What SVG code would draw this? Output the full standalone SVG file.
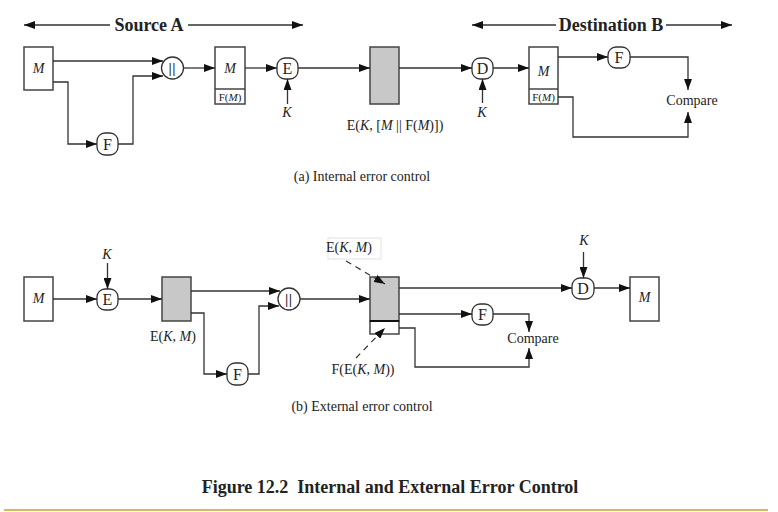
<svg xmlns="http://www.w3.org/2000/svg" width="778" height="512" viewBox="0 0 778 512">
<style>
text{font-family:"Liberation Serif","Times New Roman",serif;fill:#222;text-anchor:middle}
.box{fill:#fff;stroke:#444;stroke-width:1.5}
.gray{fill:#c8c8c8;stroke:#444;stroke-width:1.5}
.rn{fill:#fff;stroke:#333;stroke-width:1.3}
.ln{fill:none;stroke:#333;stroke-width:1.3}
.arr{marker-end:url(#ah)}
.lbl{font-size:14px}
.nl{font-size:16px}
.it{font-style:italic}
.m{font-size:14px;font-style:italic}
.sm{font-size:11px}
.hd{font-size:18px;font-weight:bold}
.bar{font-size:14px;fill:#111;stroke:#111;stroke-width:0.2}
.dash{fill:none;stroke:#333;stroke-width:1.2;stroke-dasharray:6 5}
</style>
<defs>
<marker id="ah" viewBox="0 0 11 8" refX="11" refY="4" markerWidth="11" markerHeight="8" orient="auto-start-reverse" markerUnits="userSpaceOnUse"><path d="M0,0 L11,4 L0,8 z" fill="#111"/></marker>
</defs>
<rect width="778" height="512" fill="#fff"/>

<g id="headers">
<line x1="24" y1="25" x2="303" y2="25" class="ln" marker-start="url(#ah)" marker-end="url(#ah)"/>
<rect x="110" y="15" width="78" height="20" fill="#fff"/>
<text x="149" y="31" class="hd">Source A</text>
<line x1="472" y1="25" x2="732" y2="25" class="ln" marker-start="url(#ah)" marker-end="url(#ah)"/>
<rect x="556" y="15" width="110" height="20" fill="#fff"/>
<text x="611" y="31" class="hd">Destination B</text>
</g>

<g id="a-M">
<rect class="box" x="24" y="47" width="29" height="43"/>
<text x="38.5" y="73" class="m">M</text>
</g>
<g id="a-concat">
<circle class="rn" cx="172.5" cy="68" r="11"/>
<text x="172.5" y="73" class="bar" letter-spacing="1">||</text>
</g>
<g id="a-F1">
<rect class="rn" x="97" y="133" width="21" height="22" rx="8"/>
<text x="107.5" y="149.5" class="nl">F</text>
</g>
<g id="a-MF1">
<rect class="box" x="215" y="47" width="30" height="57"/>
<line x1="215" y1="89" x2="245" y2="89" stroke="#444" stroke-width="1.5"/>
<text x="230" y="73" class="m">M</text>
<text x="230" y="101" class="sm">F(<tspan class="it">M</tspan>)</text>
</g>
<g id="a-E">
<rect class="rn" x="277" y="58" width="21" height="21" rx="8"/>
<text x="287.5" y="74" class="nl">E</text>
<text x="287" y="117" class="lbl it">K</text>
</g>
<g id="a-cipher">
<rect class="gray" x="370" y="47" width="29" height="57"/>
<text x="395" y="130" class="lbl">E(<tspan class="it">K</tspan>, [<tspan class="it">M</tspan> || F(<tspan class="it">M</tspan>)])</text>
</g>
<g id="a-D">
<rect class="rn" x="472" y="58" width="21" height="21" rx="8"/>
<text x="482.5" y="74" class="nl">D</text>
<text x="482" y="117" class="lbl it">K</text>
</g>
<g id="a-MF2">
<rect class="box" x="529" y="47" width="29" height="57"/>
<line x1="529" y1="89" x2="558" y2="89" stroke="#444" stroke-width="1.5"/>
<text x="543.5" y="76" class="m">M</text>
<text x="543.5" y="101" class="sm">F(<tspan class="it">M</tspan>)</text>
</g>
<g id="a-F2">
<rect class="rn" x="608" y="47" width="22" height="21" rx="8"/>
<text x="619" y="63" class="nl">F</text>
</g>
<g id="a-compare">
<text x="692" y="105" class="lbl">Compare</text>
</g>
<text x="362" y="181" class="lbl">(a) Internal error control</text>

<g id="b-M">
<rect class="box" x="24" y="277" width="29" height="44"/>
<text x="38.5" y="303" class="m">M</text>
</g>
<g id="b-E">
<text x="107" y="259" class="lbl it">K</text>
<rect class="rn" x="97" y="289" width="21" height="21" rx="8"/>
<text x="107.5" y="305" class="nl">E</text>
</g>
<g id="b-cipher">
<rect class="gray" x="162" y="277" width="29" height="44"/>
<text x="173" y="341" class="lbl">E(<tspan class="it">K</tspan>, <tspan class="it">M</tspan>)</text>
</g>
<g id="b-F1">
<rect class="rn" x="227" y="363" width="21" height="22" rx="8"/>
<text x="237.5" y="379.5" class="nl">F</text>
</g>
<g id="b-concat">
<circle class="rn" cx="289" cy="299" r="11"/>
<text x="289" y="304" class="bar" letter-spacing="1">||</text>
</g>
<g id="b-packet">
<rect class="gray" x="370" y="277" width="29" height="44"/>
<rect class="box" x="370" y="321" width="29" height="13"/>
<line x1="370" y1="321" x2="399" y2="321" stroke="#111" stroke-width="2"/>
<rect x="328" y="238" width="53" height="21" fill="#fff" stroke="#e2e2e2" stroke-width="1"/>
<text x="349" y="252" class="lbl">E(<tspan class="it">K</tspan>, <tspan class="it">M</tspan>)</text>
<text x="363" y="374" class="lbl">F(E(<tspan class="it">K</tspan>, <tspan class="it">M</tspan>))</text>
</g>
<g id="b-F2">
<rect class="rn" x="472" y="304" width="21" height="21" rx="8"/>
<text x="482.5" y="320" class="nl">F</text>
</g>
<g id="b-compare">
<text x="533" y="343" class="lbl">Compare</text>
</g>
<g id="b-D">
<text x="584" y="245" class="lbl it">K</text>
<rect class="rn" x="572" y="278" width="22" height="21" rx="8"/>
<text x="583" y="294" class="nl">D</text>
</g>
<g id="b-M2">
<rect class="box" x="630" y="277" width="29" height="44"/>
<text x="644.5" y="302" class="m">M</text>
</g>
<text x="362" y="411" class="lbl">(b) External error control</text>

<g id="connectors">
<polyline class="ln arr" points="53,61 163,61"/>
<polyline class="ln arr" points="53,82 68,82 68,144 97,144"/>
<polyline class="ln arr" points="118,144 133,144 133,76 163,76"/>
<polyline class="ln arr" points="183.5,68 215,68"/>
<polyline class="ln arr" points="245,68 277,68"/>
<polyline class="ln arr" points="287.5,104 287.5,79"/>
<polyline class="ln arr" points="298,68 370,68"/>
<polyline class="ln arr" points="399,68 472,68"/>
<polyline class="ln arr" points="482.5,103 482.5,79"/>
<polyline class="ln arr" points="493,68 529,68"/>
<polyline class="ln arr" points="558,57 608,57"/>
<polyline class="ln arr" points="630,57 688,57 688,90"/>
<polyline class="ln arr" points="558,97 573,97 573,137 688,137 688,112"/>

<polyline class="ln arr" points="107.5,263 107.5,289"/>
<polyline class="ln arr" points="53,299 97,299"/>
<polyline class="ln arr" points="118,299 162,299"/>
<polyline class="ln arr" points="191,291 280,291"/>
<polyline class="ln arr" points="191,313 204,313 204,374 227,374"/>
<polyline class="ln arr" points="248,374 259,374 259,306 279,306"/>
<polyline class="ln arr" points="300,299 370,299"/>
<polyline class="ln arr" points="399,288 572,288"/>
<polyline class="ln arr" points="583.5,252 583.5,278"/>
<polyline class="ln arr" points="594,288 630,288"/>
<polyline class="ln arr" points="399,314 472,314"/>
<polyline class="ln arr" points="493,314 529,314 529,332"/>
<polyline class="ln arr" points="399,328 415,328 415,367 529,367 529,348"/>
<line class="dash" x1="346" y1="261" x2="385" y2="284" marker-end="url(#ah)"/>
<line class="dash" x1="356" y1="358" x2="385" y2="328" marker-end="url(#ah)"/>
</g>

<text x="390" y="493" class="hd" xml:space="preserve">Figure 12.2  Internal and External Error Control</text>
<line x1="4" y1="510" x2="768" y2="510" stroke="#c9a13a" stroke-width="1.5"/>
</svg>
